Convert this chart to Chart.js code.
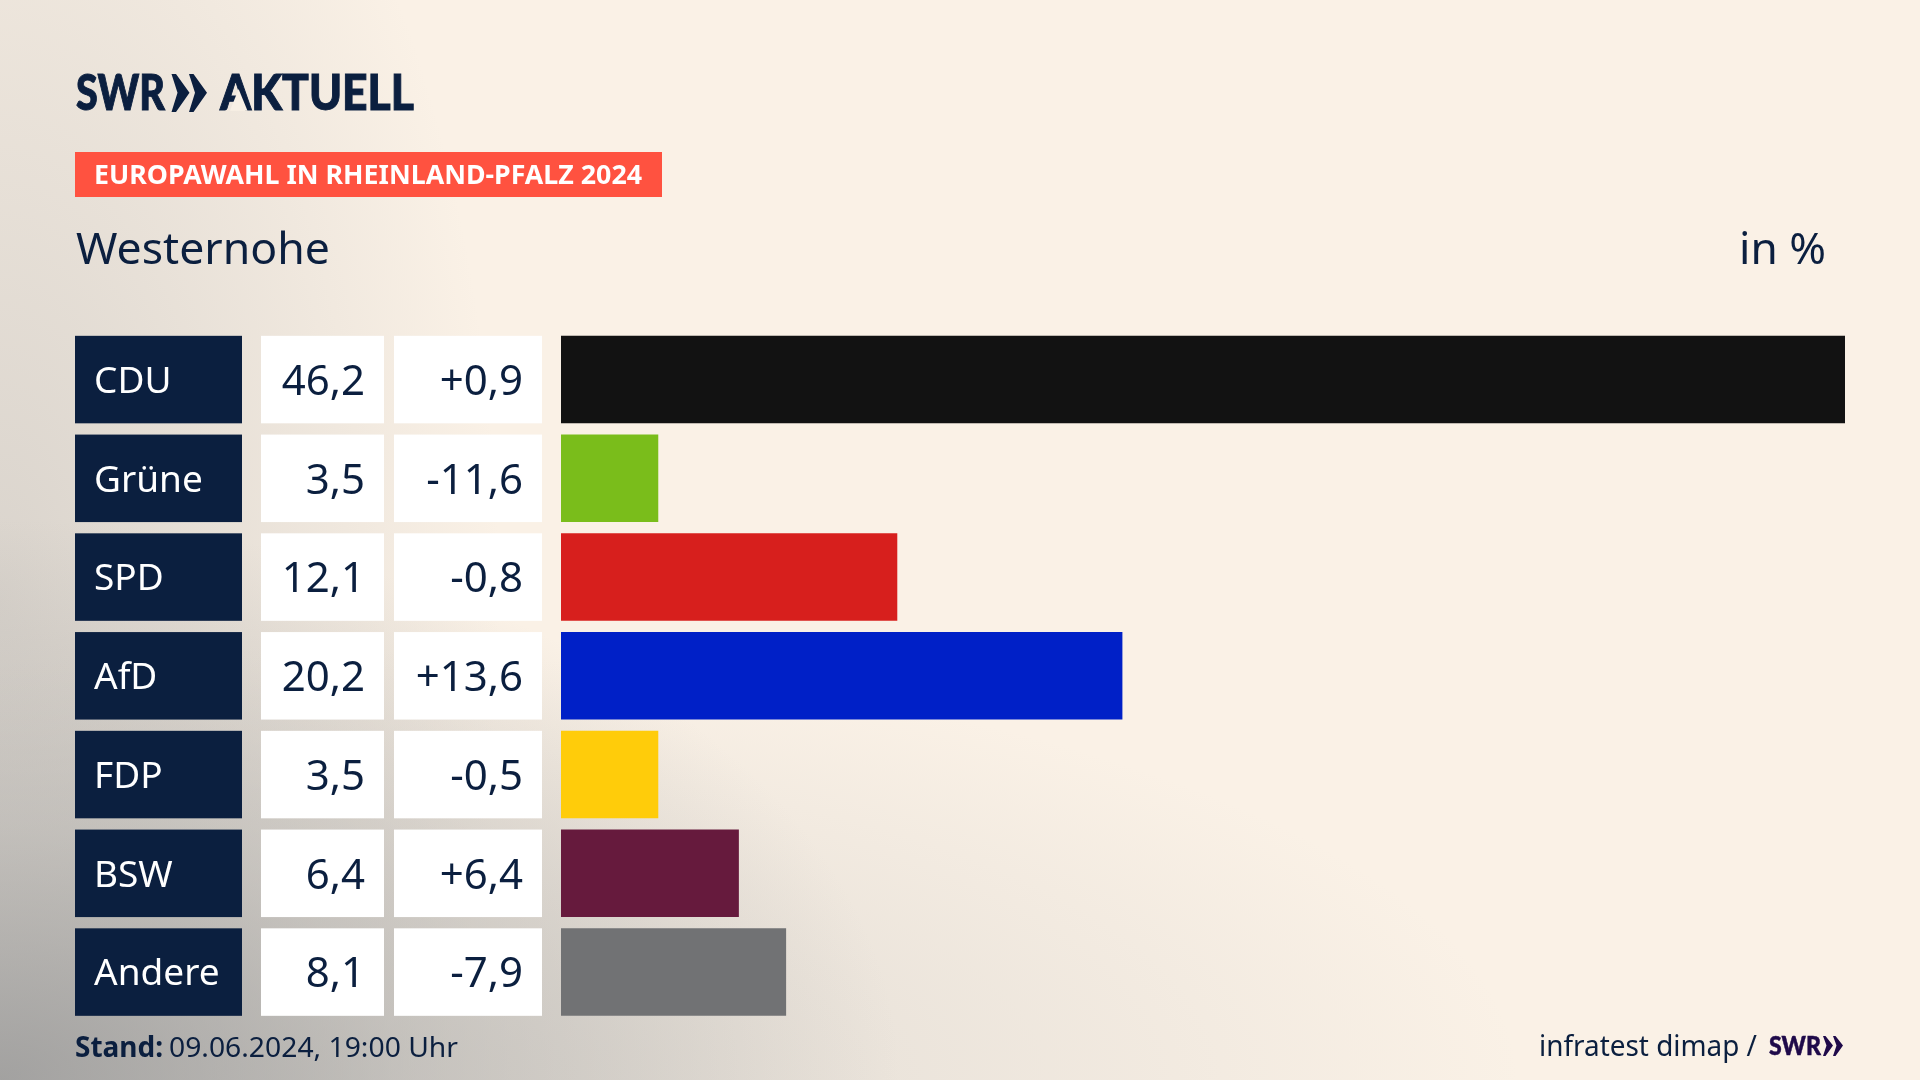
<!DOCTYPE html>
<html lang="de"><head><meta charset="utf-8"><title>Europawahl Westernohe</title>
<script src="https://cdn.jsdelivr.net/npm/chart.js@4"></script>
<style>
html,body{margin:0;padding:0;width:1920px;height:1080px;overflow:hidden;background-color:#FAF1E6;}
#bg{position:absolute;left:0;top:0;width:1920px;height:1080px;
background:
 radial-gradient(ellipse 900px 560px at 0px 1080px, rgba(150,150,150,.82) 0%, rgba(170,169,167,.5) 45%, rgba(200,197,193,.0) 100%),
 radial-gradient(ellipse 1220px 430px at 300px 1080px, rgba(198,196,192,.55) 0%, rgba(212,209,204,.0) 100%),
 radial-gradient(ellipse 500px 1000px at 0px 600px, rgba(190,187,183,.55) 0%, rgba(200,197,192,.0) 100%),
 #FAF1E6;}
canvas{position:absolute;left:0;top:0}
svg{position:absolute;left:0;top:0}
</style></head><body>
<div id="bg"></div>
<canvas id="c" width="1920" height="1080"></canvas>
<svg id="o" width="1920" height="1080" viewBox="0 0 1920 1080" xmlns="http://www.w3.org/2000/svg">
 <g fill="#0B1F3F" stroke="#0B1F3F" stroke-width="1">
  <text x="76" y="110" font-family="Lato" font-weight="900" font-size="49" textLength="89" lengthAdjust="spacingAndGlyphs">SWR</text>
  <text x="220" y="110" font-family="Lato" font-weight="900" font-size="49" textLength="194" lengthAdjust="spacingAndGlyphs">AKTUELL</text>
 </g>
 <polygon points="238.6,89 230,110.8 247.5,110.8" fill="#F8F0E5"/>
 <g fill="#0B1F3F">
  <polygon points="171.5,74 176,74 189.5,92.7 176,112 171.5,112 177.5,92.7"/><polygon points="189,74 193.5,74 207,92.7 193.5,112 189,112 195,92.7"/>
 </g>
 <rect x="75" y="152" width="587" height="45" fill="#FF5240"/>
 <text x="94" y="184" font-family="Noto Sans" font-weight="700" font-size="26" fill="#fff" textLength="548" lengthAdjust="spacingAndGlyphs">EUROPAWAHL IN RHEINLAND-PFALZ 2024</text>
 <text x="76" y="264" font-family="Noto Sans" font-size="43" fill="#0B1F3F" textLength="254" lengthAdjust="spacingAndGlyphs">Westernohe</text>
 <text x="1739" y="264" font-family="Noto Sans" font-size="44" fill="#0B1F3F" textLength="87" lengthAdjust="spacingAndGlyphs">in %</text>
 <text x="75" y="1057" font-family="Noto Sans" font-weight="700" font-size="28" fill="#0B1F3F" textLength="88" lengthAdjust="spacingAndGlyphs">Stand:</text>
 <text x="169" y="1057" font-family="Noto Sans" font-size="28" fill="#0B1F3F" textLength="289" lengthAdjust="spacingAndGlyphs">09.06.2024, 19:00 Uhr</text>
 <text x="1539" y="1056" font-family="Noto Sans" font-size="29" fill="#0B1F3F" textLength="218" lengthAdjust="spacingAndGlyphs">infratest dimap /</text>
 <g fill="#1F0A4A">
  <text x="1769" y="1055" font-family="Lato" font-weight="900" font-size="27" stroke="#1F0A4A" stroke-width="0.5" textLength="52" lengthAdjust="spacingAndGlyphs">SWR</text>
  <polygon points="1823,1036 1825.5,1036 1833,1045.5 1825.5,1056 1823,1056 1826.5,1045.5"/><polygon points="1833,1036 1835.5,1036 1843,1045.5 1835.5,1056 1833,1056 1836.5,1045.5"/>
 </g>
</svg>
<script>
const parties = ["CDU","Grüne","SPD","AfD","FDP","BSW","Andere"];
const shares = [46.2,3.5,12.1,20.2,3.5,6.4,8.1];
const changes = [0.9,-11.6,-0.8,13.6,-0.5,6.4,-7.9];
const barColors = ["#121212","#7ABD1B","#D71F1D","#0020C7","#FFCC0A","#661A3D","#717274"];

const NAVY="#0B1F3F";
const fmt=v=>Math.abs(v).toFixed(1).replace(".",",");
const tablePlugin={id:"table",afterDatasetsDraw(chart){
  const {ctx}=chart, y=chart.scales.y, h=87.5;
  ctx.save();
  parties.forEach((p,i)=>{
    const top=y.getPixelForValue(i)-h/2, base=Math.round(top+57);
    ctx.fillStyle=NAVY; ctx.fillRect(75,top,167,h);
    ctx.fillStyle="#fff"; ctx.fillRect(261,top,123,h); ctx.fillRect(394,top,148,h);
    ctx.textBaseline="alphabetic";
    ctx.font="37px 'Noto Sans'";
    ctx.fillStyle="#fff"; ctx.textAlign="left"; ctx.fillText(p,94,base);
    ctx.font="42px 'Noto Sans'";
    ctx.fillStyle=NAVY; ctx.textAlign="right";
    ctx.fillText(fmt(shares[i]),365,base+2);
    ctx.fillText((changes[i]>=0?"+":"-")+fmt(changes[i]),523,base+2);
  });
  ctx.restore();
}};
new Chart(document.getElementById("c"),{
  type:"bar",
  data:{labels:parties,datasets:[{data:shares,backgroundColor:barColors,barPercentage:0.886,categoryPercentage:1,borderWidth:0}]},
  options:{indexAxis:"y",responsive:false,animation:false,devicePixelRatio:1,
    layout:{padding:{left:561,right:75,top:330.2,bottom:58.55}},
    plugins:{legend:{display:false},tooltip:{enabled:false},title:{display:false}},
    scales:{x:{display:false,min:0,max:46.2},y:{display:false}}},
  plugins:[tablePlugin]
});
</script>
</body></html>
